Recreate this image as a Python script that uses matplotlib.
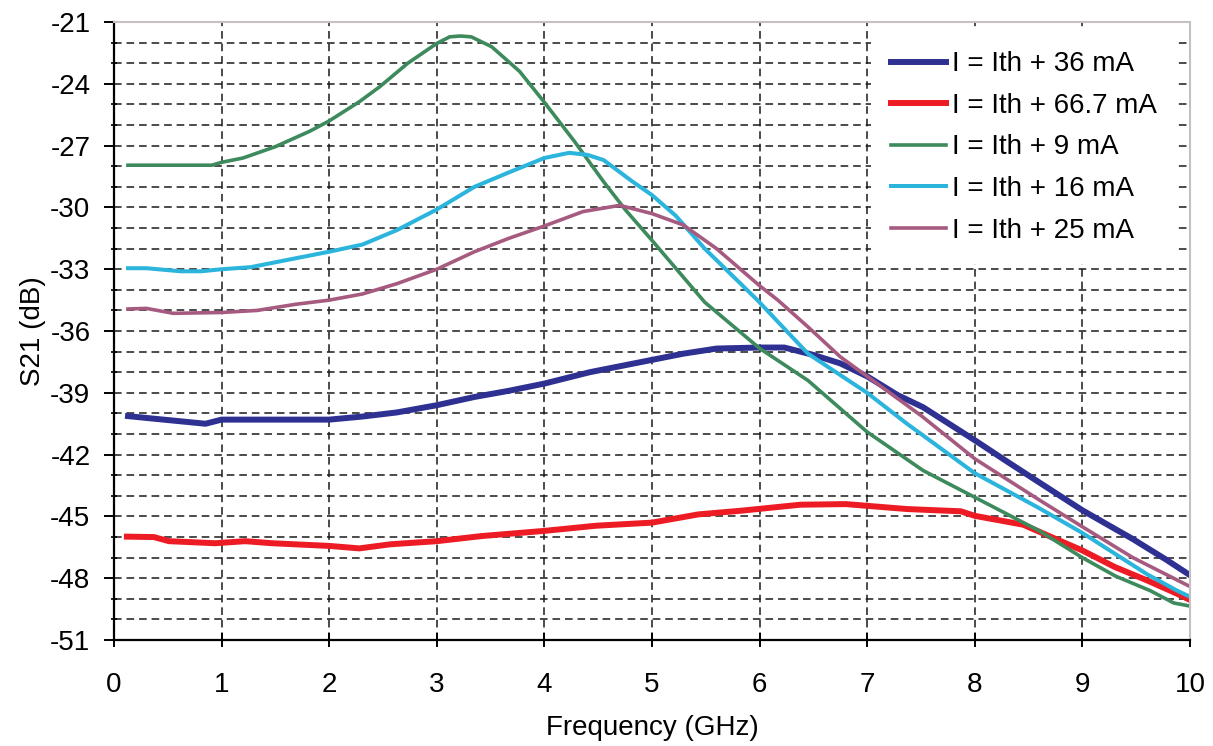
import numpy as np
import matplotlib
matplotlib.use("Agg")
import matplotlib.pyplot as plt
from matplotlib.ticker import MultipleLocator

plt.rcParams['font.family'] = ['Liberation Sans', 'DejaVu Sans']
plt.rcParams['axes.unicode_minus'] = False

# ----------------------------
# Data (frequency in GHz, S21 in dB)
# ----------------------------
freq_36 = [0.13, 0.46, 0.85, 1.0, 1.5, 2.0, 2.31, 2.63, 3.0, 3.35, 3.67, 4.0, 4.42,
           5.0, 5.29, 5.6, 6.0, 6.23, 6.5, 6.75, 7.0, 7.28, 7.52, 8.0, 8.29, 8.6,
           9.0, 9.47, 9.78, 10.0]
s21_36 = [-40.13, -40.3, -40.5, -40.3, -40.3, -40.3, -40.15, -39.95, -39.6, -39.2, -38.9,
          -38.55, -38.0, -37.4, -37.1, -36.85, -36.8, -36.8, -37.16, -37.57, -38.2,
          -39.1, -39.7, -41.3, -42.3, -43.35, -44.7, -46.1, -47.1, -47.85]

freq_667 = [0.12, 0.37, 0.51, 0.94, 1.22, 1.47, 2.0, 2.28, 2.57, 3.0, 3.42, 4.0, 4.48,
            5.0, 5.43, 5.83, 6.38, 6.8, 7.37, 7.87, 8.0, 8.45, 8.8, 9.0, 9.3, 9.6, 9.88,
            10.0]
s21_667 = [-45.98, -46.0, -46.2, -46.3, -46.2, -46.3, -46.43, -46.55, -46.35, -46.2,
           -45.95, -45.7, -45.45, -45.3, -44.9, -44.72, -44.43, -44.4, -44.64, -44.75,
           -44.97, -45.4, -46.2, -46.65, -47.45, -48.1, -48.75, -49.05]

freq_9 = [0.13, 0.5, 0.91, 1.0, 1.2, 1.5, 1.82, 2.0, 2.28, 2.47, 2.73, 3.0, 3.12, 3.22,
          3.32, 3.51, 3.77, 4.0, 4.28, 4.55, 4.75, 5.0, 5.49, 6.0, 6.45, 7.0, 7.52,
          8.0, 8.6, 9.0, 9.31, 9.63, 9.85, 10.0]
s21_9 = [-27.95, -27.95, -27.95, -27.81, -27.6, -27.05, -26.3, -25.8, -24.87, -24.14,
         -23.0, -22.04, -21.72, -21.68, -21.72, -22.2, -23.4, -24.9, -26.8, -28.75,
         -30.1, -31.6, -34.6, -36.84, -38.4, -40.9, -42.77, -44.07, -45.7, -47.0,
         -47.9, -48.6, -49.2, -49.35]

freq_16 = [0.13, 0.3, 0.62, 0.81, 1.0, 1.27, 1.56, 2.0, 2.31, 2.63, 3.0, 3.35, 3.67,
           4.0, 4.23, 4.4, 4.55, 4.82, 5.0, 5.22, 5.49, 5.98, 6.45, 7.0, 7.37, 8.0, 8.6,
           9.0, 9.3, 9.6, 9.88, 10.0]
s21_16 = [-32.95, -32.95, -33.1, -33.1, -33.0, -32.9, -32.6, -32.15, -31.8, -31.1, -30.1,
          -29.0, -28.3, -27.6, -27.35, -27.45, -27.7, -28.75, -29.4, -30.4, -32.0, -34.5,
          -37.1, -39.0, -40.5, -42.9, -44.6, -45.8, -46.8, -47.8, -48.6, -48.9]

freq_25 = [0.13, 0.3, 0.55, 1.0, 1.33, 1.69, 2.0, 2.31, 2.63, 3.0, 3.35, 3.67, 4.0, 4.36,
           4.7, 5.0, 5.29, 5.6, 6.0, 6.17, 6.45, 6.75, 7.0, 7.5, 8.0, 8.6, 9.0, 9.47, 10.0]
s21_25 = [-34.93, -34.9, -35.14, -35.1, -35.0, -34.7, -34.5, -34.2, -33.7, -33.0, -32.15,
          -31.5, -30.9, -30.2, -29.9, -30.3, -30.85, -32.0, -33.8, -34.5, -35.8, -37.25,
          -38.2, -40.1, -42.2, -44.2, -45.5, -47.0, -48.4]

# ----------------------------
# Figure and axis setup
# ----------------------------
fig = plt.figure(figsize=(12.13, 7.46), dpi=100)
ax = fig.add_axes([0.094, 0.142, 0.887, 0.8285])

ax.set_xlim(0, 10)
ax.set_ylim(-51, -21)
ax.xaxis.set_major_locator(MultipleLocator(1))
ax.yaxis.set_major_locator(MultipleLocator(3))
ax.yaxis.set_minor_locator(MultipleLocator(1))

grid_style = dict(color='#1a1a1a', linewidth=1.1, linestyle=(0, (5, 3.2)))
ax.grid(True, which='major', axis='x', **grid_style)
ax.grid(True, which='both', axis='y', **grid_style)
ax.set_axisbelow(True)

ax.spines['top'].set_color('#c8c0c0')
ax.spines['right'].set_color('#c8c0c0')
ax.spines['top'].set_linewidth(1.5)
ax.spines['right'].set_linewidth(1.5)
ax.spines['left'].set_linewidth(1.6)
ax.spines['bottom'].set_linewidth(1.6)

ax.tick_params(axis='both', which='major', labelsize=20, width=1.4, color='black')
ax.tick_params(axis='y', which='major', direction='out', length=7, pad=10)
ax.tick_params(axis='y', which='minor', direction='inout', length=5, width=1.2)
ax.tick_params(axis='x', which='major', direction='inout', length=10, pad=18)

ax.set_xlabel("Frequency (GHz)", fontsize=20, labelpad=12)
ax.set_ylabel("S21 (dB)", fontsize=20, labelpad=3)

# ----------------------------
# Curves
# ----------------------------
ax.plot(freq_36, s21_36, color='#2e3192', linewidth=4.3, label="I = Ith + 36 mA")
ax.plot(freq_667, s21_667, color='#ed1c24', linewidth=4.3, label="I = Ith + 66.7 mA")
ax.plot(freq_9, s21_9, color='#3d8a5c', linewidth=2.6, label="I = Ith + 9 mA")
ax.plot(freq_16, s21_16, color='#2bb4dc', linewidth=2.9, label="I = Ith + 16 mA")
ax.plot(freq_25, s21_25, color='#a65a80', linewidth=2.6, label="I = Ith + 25 mA")

leg = ax.legend(loc='upper left', bbox_to_anchor=(0.7035, 0.985), borderaxespad=0,
                fontsize=20, frameon=True, fancybox=False, framealpha=1,
                handlelength=2.0, handletextpad=0.2, labelspacing=0.56,
                borderpad=0.72)
leg.get_frame().set_facecolor('white')
leg.get_frame().set_edgecolor('none')

fig.savefig("out.png", dpi=100)
